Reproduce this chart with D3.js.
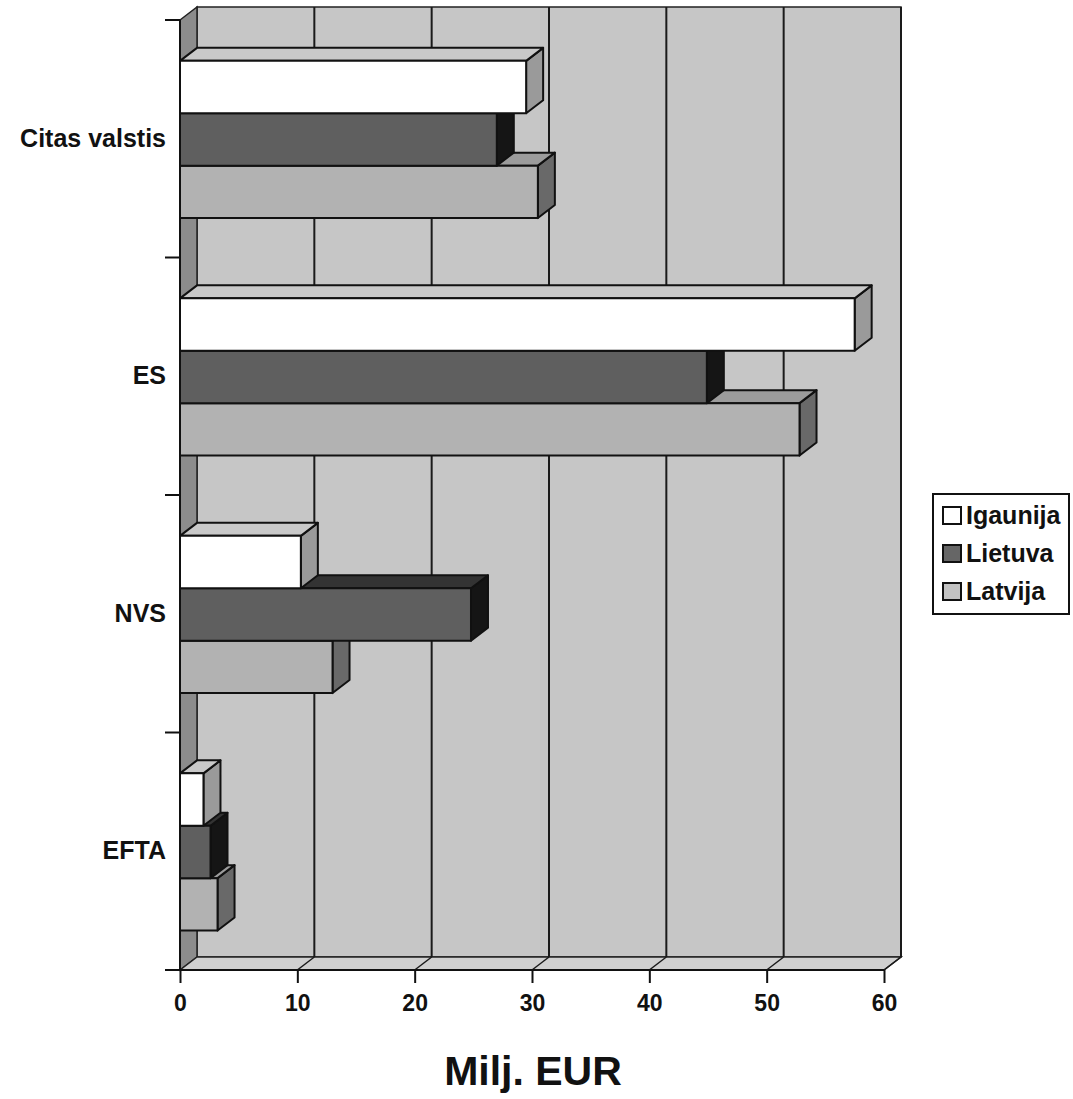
<!DOCTYPE html>
<html>
<head>
<meta charset="utf-8">
<script src="https://cdn.jsdelivr.net/npm/d3@7"></script>
<style>
  body { margin: 0; background: #fff; }
  text { font-family: "Liberation Sans", Arial, sans-serif; font-weight: bold; fill: #111; }
</style>
</head>
<body>
<svg id="chart"></svg>
<script>
var w = 1073, h = 1099;
var categories = ["Citas valstis", "ES", "NVS", "EFTA"];
var series = ["Igaunija", "Lietuva", "Latvija"];
var igaunija = [29.5, 57.5, 10.3, 2.0];
var lietuva  = [27.0, 44.9, 24.8, 2.6];
var latvija  = [30.5, 52.8, 13.0, 3.2];
var xTicks = [0, 10, 20, 30, 40, 50, 60];
var values = [igaunija, lietuva, latvija];

// colours: front, top, side
var colors = {
  "Igaunija": ["#ffffff", "#c9c9c9", "#9a9a9a"],
  "Lietuva":  ["#5f5f5f", "#333333", "#151515"],
  "Latvija":  ["#b2b2b2", "#9c9c9c", "#696969"]
};

var dx = 17, dy = 13;
var pLeft = 180, pRight = 884, pTop = 20, pBottom = 970;

var svg = d3.select("#chart").attr("width", w).attr("height", h);

var xScale = d3.scaleLinear().domain([0, 60]).range([pLeft, pRight]);
var yScale = d3.scaleBand().domain(categories).range([pTop, pBottom]);
var bw = yScale.bandwidth();
var ySub = d3.scaleBand().domain(series).range([bw * 0.172, bw * 0.834]);

// back wall
svg.append("rect")
  .attr("x", pLeft + dx).attr("y", pTop - dy)
  .attr("width", pRight - pLeft).attr("height", pBottom - pTop)
  .attr("fill", "#c6c6c6").attr("stroke", "#222").attr("stroke-width", 1.5);

// left wall
svg.append("polygon")
  .attr("points", [[pLeft, pTop], [pLeft + dx, pTop - dy], [pLeft + dx, pBottom - dy], [pLeft, pBottom]].join(" "))
  .attr("fill", "#8c8c8c").attr("stroke", "#222").attr("stroke-width", 1.5);

// floor
svg.append("polygon")
  .attr("points", [[pLeft, pBottom], [pLeft + dx, pBottom - dy], [pRight + dx, pBottom - dy], [pRight, pBottom]].join(" "))
  .attr("fill", "#d0d0d0").attr("stroke", "#222").attr("stroke-width", 1.5);

// gridlines on the wall and floor
xTicks.slice(1).forEach(function(t){
  svg.append("line")
    .attr("x1", xScale(t) + dx).attr("x2", xScale(t) + dx)
    .attr("y1", pTop - dy).attr("y2", pBottom - dy)
    .attr("stroke", "#1a1a1a").attr("stroke-width", 2);
  svg.append("line")
    .attr("x1", xScale(t)).attr("y1", pBottom)
    .attr("x2", xScale(t) + dx).attr("y2", pBottom - dy)
    .attr("stroke", "#1a1a1a").attr("stroke-width", 1.5);
});

// bars, drawn bottom-up so upper bars sit over lower tops
categories.slice().reverse().forEach(function(cat){
  var ci = categories.indexOf(cat);
  series.slice().reverse().forEach(function(s){
    var si = series.indexOf(s);
    var v = values[si][ci];
    var x0 = xScale(0), x1 = xScale(v);
    var y0 = yScale(cat) + ySub(s), y1 = y0 + ySub.bandwidth();
    var c = colors[s];
    var g = svg.append("g").attr("stroke", "#111").attr("stroke-width", 2).attr("stroke-linejoin", "round");
    g.append("polygon")
      .attr("points", [[x1, y0], [x1 + dx, y0 - dy], [x1 + dx, y1 - dy], [x1, y1]].join(" "))
      .attr("fill", c[2]);
    g.append("polygon")
      .attr("points", [[x0, y0], [x0 + dx, y0 - dy], [x1 + dx, y0 - dy], [x1, y0]].join(" "))
      .attr("fill", c[1]);
    g.append("rect")
      .attr("x", x0).attr("y", y0)
      .attr("width", x1 - x0).attr("height", y1 - y0)
      .attr("fill", c[0]);
  });
});

// x axis
var xAxis = d3.axisBottom(xScale).tickValues(xTicks).tickSize(13).tickPadding(12);
var gx = svg.append("g")
  .attr("transform", "translate(0," + pBottom + ")")
  .call(xAxis);
gx.select(".domain").attr("stroke", "#111").attr("stroke-width", 2).attr("d", "M" + (pLeft - 2) + ",0H" + pRight);
gx.selectAll(".tick line").attr("stroke", "#111").attr("stroke-width", 2);
gx.selectAll(".tick text").attr("font-size", "23px").attr("font-family", "Liberation Sans, Arial, sans-serif")
  .attr("font-weight", "bold").attr("fill", "#111");

// y axis (labels at band centres, ticks at band boundaries)
var yAxis = d3.axisLeft(yScale).tickSize(0).tickPadding(pLeft - 166);
var gy = svg.append("g")
  .attr("transform", "translate(" + pLeft + ",0)")
  .call(yAxis);
gy.select(".domain").attr("stroke", "#111").attr("stroke-width", 2).attr("d", "M0," + pTop + "V" + pBottom);
gy.selectAll(".tick text").attr("font-size", "25px").attr("font-family", "Liberation Sans, Arial, sans-serif")
  .attr("font-weight", "bold").attr("fill", "#111");

var bounds = categories.map(function(c){ return yScale(c); }).concat([pBottom]);
svg.selectAll(".ytick")
  .data(bounds)
  .enter()
  .append("line")
  .attr("x1", pLeft - 15).attr("x2", pLeft)
  .attr("y1", function(d){ return d; }).attr("y2", function(d){ return d; })
  .attr("stroke", "#111").attr("stroke-width", 2);

// axis title
svg.append("text")
  .attr("x", 533).attr("y", 1085)
  .attr("text-anchor", "middle")
  .attr("font-size", "41px")
  .text("Milj. EUR");

// legend
var legend = svg.append("g").attr("transform", "translate(933,494)");
legend.append("rect")
  .attr("width", 136).attr("height", 120)
  .attr("fill", "#fff").attr("stroke", "#111").attr("stroke-width", 2);
var items = legend.selectAll(".item")
  .data(series)
  .enter()
  .append("g")
  .attr("transform", function(d, i){ return "translate(10," + (21 + i * 38) + ")"; });
items.append("rect")
  .attr("x", 0).attr("y", -8)
  .attr("width", 18).attr("height", 17)
  .attr("fill", function(d){ return d === "Lietuva" ? "#666" : (d === "Latvija" ? "#c2c2c2" : "#fff"); })
  .attr("stroke", "#111").attr("stroke-width", 2);
items.append("text")
  .attr("x", 23).attr("y", 9)
  .attr("font-size", "25px")
  .text(function(d){ return d; });
</script>
</body>
</html>
